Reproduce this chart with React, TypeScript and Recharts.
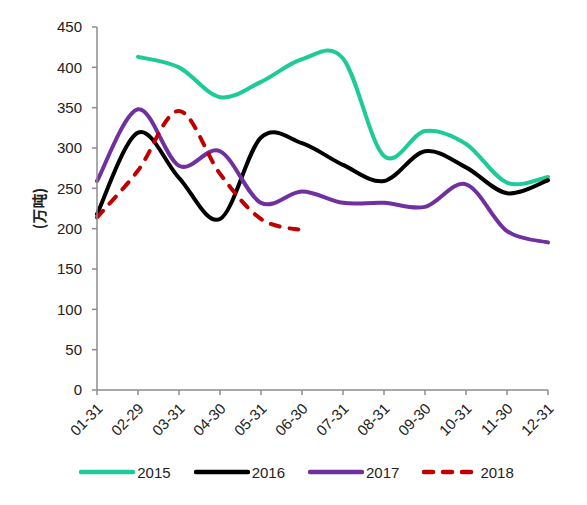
import { LineChart, Line, XAxis, YAxis, Legend, Label } from 'recharts'

const months = ['01-31', '02-29', '03-31', '04-30', '05-31', '06-30', '07-31', '08-31', '09-30', '10-31', '11-30', '12-31']
const y2015 = [null, 413, 400, 363, 382, 410, 411, 290, 321, 305, 257, 264]
const y2016 = [218, 319, 263, 212, 313, 306, 279, 259, 296, 276, 244, 260]
const y2017 = [259, 348, 278, 296, 232, 246, 232, 232, 227, 255, 197, 183]
const y2018 = [214, 272, 346, 268, 212, 198, null, null, null, null, null, null]
const yTicks = [0, 50, 100, 150, 200, 250, 300, 350, 400, 450]

const data = months.map((m, i) => ({
  month: m,
  '2015': y2015[i],
  '2016': y2016[i],
  '2017': y2017[i],
  '2018': y2018[i],
}))

const series = [
  { key: '2015', color: '#1ECB98', dash: undefined },
  { key: '2016', color: '#000000', dash: undefined },
  { key: '2017', color: '#7030A0', dash: undefined },
  { key: '2018', color: '#C00000', dash: '9 10' },
]

const font = '"Liberation Sans", Arial, sans-serif'
const axisColor = '#8c8c8c'

// excel-like smoothed line (bezier, control points at 1/6 of neighbour span)
const excelSmooth = (ctx: any) => {
  let pts: number[][] = []
  return {
    areaStart() {},
    areaEnd() {},
    lineStart() {
      pts = []
    },
    point(x: number, y: number) {
      pts.push([+x, +y])
    },
    lineEnd() {
      if (!pts.length) return
      ctx.moveTo(pts[0][0], pts[0][1])
      for (let i = 0; i < pts.length - 1; i++) {
        const p0 = pts[i - 1] || pts[i]
        const p1 = pts[i]
        const p2 = pts[i + 1]
        const p3 = pts[i + 2] || p2
        ctx.bezierCurveTo(
          p1[0] + (p2[0] - p0[0]) / 6,
          p1[1] + (p2[1] - p0[1]) / 6,
          p2[0] - (p3[0] - p1[0]) / 6,
          p2[1] - (p3[1] - p1[1]) / 6,
          p2[0],
          p2[1],
        )
      }
    },
  }
}

const MonthTick = ({ x, y, payload }: any) => (
  <g transform={`translate(${x + 3},${y + 9})`}>
    <text
      x={0}
      y={0}
      dy={5}
      textAnchor="end"
      transform="rotate(-45)"
      fontSize={15}
      fontFamily={font}
      fill="#222"
    >
      {payload.value}
    </text>
  </g>
)

const LegendContent = () => (
  <div style={{ display: 'flex', justifyContent: 'center', alignItems: 'center', height: 26, paddingLeft: 8, fontFamily: font, fontSize: 15, color: '#222' }}>
    {series.map((s, i) => (
      <div key={s.key} style={{ display: 'flex', alignItems: 'center', marginRight: i < series.length - 1 ? 23 : 0 }}>
        <svg width={56} height={8}>
          <line
            x1={2}
            y1={4}
            x2={54}
            y2={4}
            stroke={s.color}
            strokeWidth={4.5}
            strokeLinecap="round"
            strokeDasharray={s.dash}
          />
        </svg>
        <span style={{ marginLeft: 2 }}>{s.key}</span>
      </div>
    ))}
  </div>
)

export default function App() {
  return (
    <div style={{ position: 'absolute', left: 0, top: 0, background: '#fff' }}>
      <LineChart
        width={587}
        height={505}
        data={data}
        margin={{ top: 27, right: 39, left: 37, bottom: 20 }}
      >
        <XAxis
          dataKey="month"
          interval={0}
          height={69}
          tick={<MonthTick />}
          tickSize={5}
          stroke={axisColor}
          strokeWidth={1.5}
        />
        <YAxis
          domain={[0, 450]}
          ticks={yTicks}
          interval={0}
          width={60}
          tickSize={5}
          tickMargin={10}
          stroke={axisColor}
          strokeWidth={1.5}
          tick={{ fontSize: 15, fontFamily: font, fill: '#222' }}
        >
          <Label
            value="(万吨)"
            angle={-90}
            position="insideLeft"
            offset={3}
            style={{ fontSize: 15, fontWeight: 'bold', fontFamily: '"Noto Sans CJK SC", sans-serif', fill: '#222', textAnchor: 'middle' }}
          />
        </YAxis>
        <Legend verticalAlign="bottom" content={<LegendContent />} />
        {series.map((s) => (
          <Line
            key={s.key}
            dataKey={s.key}
            type={excelSmooth as any}
            stroke={s.color}
            strokeWidth={4}
            strokeDasharray={s.dash}
            strokeLinecap="round"
            dot={false}
            activeDot={false}
            isAnimationActive={false}
          />
        ))}
      </LineChart>
    </div>
  )
}
